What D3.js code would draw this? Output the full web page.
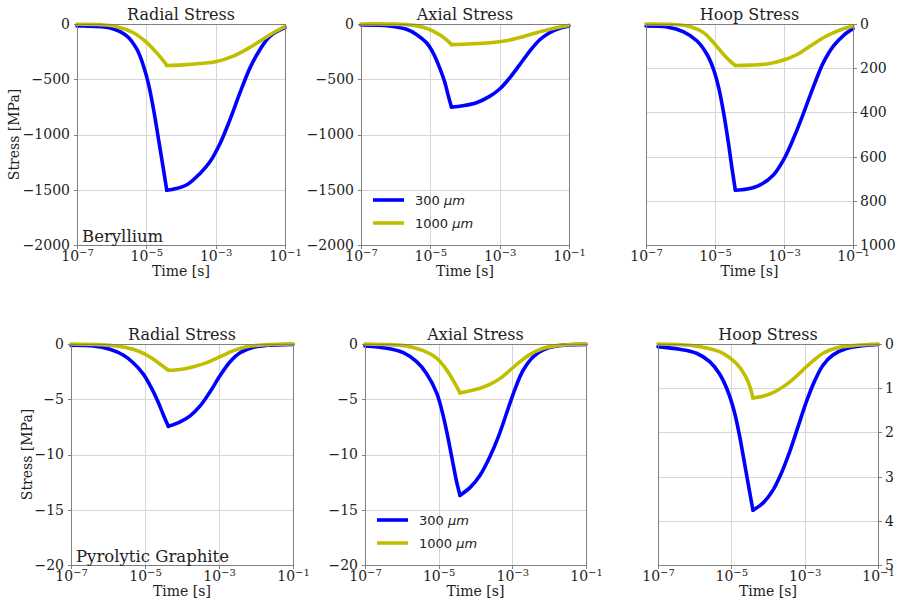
<!doctype HTML>
<html lang="en">
<head>
<meta charset="utf-8">
<title>Stress vs time, Beryllium and Pyrolytic Graphite</title>
<script src="https://d3js.org/d3.v7.min.js"></script>
<style type="text/css">
  body { margin: 0; background: white; }
  .axis path, .axis line { fill: none; stroke: #7f7f7f; shape-rendering: crispEdges; }
  .axis text { font-family: "DejaVu Serif", serif; font-size: 14px; fill: #222; }
  .grid line { stroke: #d6d6d6; stroke-width: 1; shape-rendering: crispEdges; }
  .label { font-family: "DejaVu Serif", serif; fill: #222; }
  .legend { font-family: "DejaVu Sans", sans-serif; font-size: 13px; fill: #222; }
</style>
</head>
<body>
<script type="text/javascript">

// each point is [log10 of time in s, stress in MPa]
// Beryllium
var beRadial300  = [[-7,-18],[-6.81,-18],[-6.04,-36],[-5.56,-109],[-5.27,-230],[-5.08,-382],[-4.94,-540],[-4.79,-776],
                    [-4.65,-1040],[-4.52,-1290],[-4.41,-1505],
                    [-4.22,-1495],[-3.83,-1455],[-3.45,-1352],[-3.16,-1245],[-2.87,-1079],[-2.59,-867],[-2.3,-624],
                    [-2.01,-397],[-1.72,-230],[-1.43,-109],[-1,-33]];
var beRadial1000 = [[-7,-2],[-6.33,-6],[-5.85,-24],[-5.37,-79],[-4.98,-170],[-4.7,-261],[-4.5,-336],[-4.41,-375],
                    [-3.93,-370],[-3.45,-358],[-2.97,-339],[-2.49,-291],[-2.11,-230],[-1.72,-155],[-1.34,-79],[-1,-24]];
var beAxial300   = [[-7,-9],[-6.17,-18],[-5.69,-48],[-5.4,-94],[-5.11,-170],[-4.92,-261],[-4.73,-397],[-4.58,-530],
                    [-4.49,-640],[-4.39,-752],
                    [-4.05,-739],[-3.67,-712],[-3.29,-655],[-3.0,-588],[-2.71,-488],[-2.42,-367],[-2.13,-245],
                    [-1.85,-145],[-1.56,-79],[-1.27,-39],[-1,-18]];
var beAxial1000  = [[-7,0],[-5.69,-6],[-5.21,-30],[-4.92,-64],[-4.68,-109],[-4.49,-155],[-4.39,-187],
                    [-3.77,-179],[-3.29,-170],[-2.81,-152],[-2.33,-115],[-1.94,-79],[-1.56,-48],[-1,-12]];
var beHoop300    = [[-7,9],[-6.39,14],[-5.91,36],[-5.52,77],[-5.23,138],[-5.04,206],[-4.89,290],[-4.75,402],
                    [-4.6,550],[-4.51,650],[-4.41,752],
                    [-4.07,747],[-3.69,728],[-3.3,682],[-3.01,614],[-2.72,516],[-2.43,402],[-2.14,281],
                    [-1.86,175],[-1.57,100],[-1.27,51],[-1,21]];
var beHoop1000   = [[-7,0],[-6.2,2],[-5.71,12],[-5.33,39],[-5.04,85],[-4.75,138],[-4.56,168],[-4.41,188],
                    [-3.98,186],[-3.49,181],[-3.01,163],[-2.62,138],[-2.24,100],[-1.86,62],[-1.46,32],[-1,9]];

// Pyrolytic Graphite
var pgRadial300  = [[-7,-0.12],[-6.4,-0.18],[-5.95,-0.48],[-5.59,-1.0],[-5.32,-1.7],[-5.05,-2.7],[-4.82,-4.02],
                    [-4.64,-5.3],[-4.5,-6.45],[-4.37,-7.45],
                    [-4.05,-7.04],[-3.78,-6.5],[-3.51,-5.6],[-3.24,-4.32],[-2.97,-2.85],[-2.7,-1.6],[-2.43,-0.79],
                    [-2.07,-0.3],[-1.71,-0.12],[-1,-0.03]];
var pgRadial1000 = [[-7,0],[-6.22,-0.06],[-5.77,-0.18],[-5.32,-0.48],[-4.95,-1.0],[-4.68,-1.6],[-4.46,-2.15],[-4.37,-2.38],
                    [-4.05,-2.3],[-3.69,-2.05],[-3.33,-1.69],[-2.97,-1.15],[-2.61,-0.6],[-2.25,-0.24],[-1.71,-0.06],[-1,0]];
var pgAxial300   = [[-7,-0.18],[-6.41,-0.39],[-5.96,-0.79],[-5.6,-1.6],[-5.33,-2.66],[-5.05,-4.47],[-4.87,-6.59],
                    [-4.74,-8.6],[-4.6,-11.0],[-4.51,-12.5],[-4.42,-13.7],
                    [-4.15,-13.0],[-3.88,-11.9],[-3.61,-10.2],[-3.38,-8.4],[-3.15,-6.2],[-2.93,-4.1],[-2.71,-2.4],
                    [-2.43,-1.15],[-2.16,-0.54],[-1.8,-0.18],[-1,-0.03]];
var pgAxial1000  = [[-7,0],[-6.32,-0.06],[-5.87,-0.18],[-5.42,-0.6],[-5.05,-1.3],[-4.78,-2.36],[-4.56,-3.56],[-4.42,-4.42],
                    [-4.15,-4.23],[-3.88,-4.0],[-3.61,-3.66],[-3.33,-3.11],[-3.06,-2.36],[-2.79,-1.6],[-2.52,-0.94],
                    [-2.16,-0.39],[-1.8,-0.15],[-1,0]];
var pgHoop300    = [[-7,0.06],[-6.41,0.12],[-5.95,0.21],[-5.59,0.4],[-5.32,0.68],[-5.09,1.08],[-4.91,1.56],
                    [-4.77,2.1],[-4.64,2.7],[-4.5,3.35],[-4.41,3.76],
                    [-4.14,3.6],[-3.86,3.3],[-3.64,2.93],[-3.41,2.44],[-3.18,1.87],[-2.95,1.3],[-2.73,0.84],
                    [-2.5,0.48],[-2.23,0.25],[-1.86,0.1],[-1,0.01]];
var pgHoop1000   = [[-7,0],[-6.14,0.03],[-5.68,0.09],[-5.23,0.21],[-4.86,0.44],[-4.62,0.72],[-4.5,0.95],[-4.41,1.22],
                    [-4.14,1.18],[-3.86,1.1],[-3.59,0.97],[-3.32,0.8],[-3.05,0.59],[-2.77,0.38],[-2.5,0.21],
                    [-2.14,0.09],[-1.59,0.03],[-1,0]];

var xTicks = [1e-7, 1e-5, 1e-3, 1e-1];
var beRadialTicks = [0, -500, -1000, -1500, -2000];
var beHoopTicks = [0, 200, 400, 600, 800, 1000];
var pgRadialTicks = [0, -5, -10, -15, -20];
var pgHoopTicks = [0, 1, 2, 3, 4, 5];
var seriesNames = ["300 \u03bcm", "1000 \u03bcm"];
var seriesColors = ["#0000ff", "#bfbf00"];

var svg = d3.select("body").append("svg")
	.attr("width", 898)
	.attr("height", 605);

var panels = [
	{box: [77, 285, 24, 245], title: "Radial Stress", yDomain: [-2000, 0], yTicks: beRadialTicks, data: [beRadial300, beRadial1000], ylabelX: 14, note: "Beryllium"},
	{box: [361, 569, 24, 245], title: "Axial Stress", yDomain: [-2000, 0], yTicks: beRadialTicks, data: [beAxial300, beAxial1000], legend: true},
	{box: [646, 853, 24, 245], title: "Hoop Stress", yDomain: [1000, 0], yTicks: beHoopTicks, data: [beHoop300, beHoop1000], right: true},
	{box: [71, 293, 344, 565], title: "Radial Stress", yDomain: [-20, 0], yTicks: pgRadialTicks, data: [pgRadial300, pgRadial1000], ylabelX: 27, note: "Pyrolytic Graphite"},
	{box: [365, 586, 344, 565], title: "Axial Stress", yDomain: [-20, 0], yTicks: pgRadialTicks, data: [pgAxial300, pgAxial1000], legend: true},
	{box: [658, 878, 344, 565], title: "Hoop Stress", yDomain: [5, 0], yTicks: pgHoopTicks, data: [pgHoop300, pgHoop1000], right: true}
];

function drawPanel(p) {
	var x0 = p.box[0], x1 = p.box[1], y0 = p.box[2], y1 = p.box[3];
	var x = d3.scaleLog().domain([1e-7, 1e-1]).range([x0, x1]);
	var y = d3.scaleLinear().domain(p.yDomain).range([y1, y0]);

	var g = svg.append("g");

	// grid lines
	var grid = g.append("g").attr("class", "grid");
	grid.selectAll("line.v").data(xTicks).enter().append("line")
		.attr("x1", function(d) { return Math.round(x(d)) + 0.5; })
		.attr("x2", function(d) { return Math.round(x(d)) + 0.5; })
		.attr("y1", y0).attr("y2", y1);
	grid.selectAll("line.h").data(p.yTicks).enter().append("line")
		.attr("y1", function(d) { return Math.round(y(d)) + 0.5; })
		.attr("y2", function(d) { return Math.round(y(d)) + 0.5; })
		.attr("x1", x0).attr("x2", x1);

	// curves, split at the peak so the corner stays sharp
	var line = d3.line()
		.x(function(d) { return x(Math.pow(10, d[0])); })
		.y(function(d) { return y(d[1]); })
		.curve(d3.curveCatmullRom.alpha(0.5));

	p.data.forEach(function(series, i) {
		var peak = d3.maxIndex(series, function(d) { return Math.abs(d[1]); });
		var parts = [series.slice(0, peak + 1), series.slice(peak)];
		parts.forEach(function(part) {
			g.append("path")
				.datum(part)
				.attr("fill", "none")
				.attr("stroke", seriesColors[i])
				.attr("stroke-width", 3.6)
				.attr("stroke-linejoin", "round")
				.attr("stroke-linecap", "round")
				.attr("d", line);
		});
	});

	// frame
	g.append("rect")
		.attr("x", x0 + 0.5).attr("y", y0 + 0.5)
		.attr("width", x1 - x0).attr("height", y1 - y0)
		.attr("fill", "none").attr("stroke", "#7f7f7f")
		.attr("shape-rendering", "crispEdges");

	// x axis
	var xa = g.append("g")
		.attr("class", "axis")
		.attr("transform", "translate(0," + y1 + ")")
		.call(d3.axisBottom(x).tickValues(xTicks).tickSize(3.5).tickPadding(2.5).tickFormat(""));
	xa.select(".domain").remove();
	xa.selectAll(".tick text").each(function(d) {
		var t = d3.select(this);
		t.attr("dy", "0.71em");
		t.append("tspan").text("10");
		t.append("tspan").attr("dy", "-0.45em").attr("font-size", "10px")
			.text("\u2212" + Math.round(-Math.log10(d)));
	});

	// y axis
	var axisFn = p.right ? d3.axisRight(y) : d3.axisLeft(y);
	var ya = g.append("g")
		.attr("class", "axis")
		.attr("transform", "translate(" + (p.right ? x1 : x0) + ",0)")
		.call(axisFn.tickValues(p.yTicks).tickSize(3.5).tickPadding(3.5)
			.tickFormat(function(d) { return d3.format("d")(d); }));
	ya.select(".domain").remove();

	// title and axis labels
	g.append("text").attr("class", "label")
		.attr("x", (x0 + x1) / 2).attr("y", y0 - 4)
		.attr("text-anchor", "middle").attr("font-size", "16px")
		.text(p.title);

	g.append("text").attr("class", "label")
		.attr("x", (x0 + x1) / 2).attr("y", y1 + 31)
		.attr("text-anchor", "middle").attr("font-size", "14px")
		.text("Time [s]");

	if (p.ylabelX) {
		g.append("text").attr("class", "label")
			.attr("transform", "translate(" + p.ylabelX + "," + ((y0 + y1) / 2) + ") rotate(-90)")
			.attr("text-anchor", "middle").attr("dy", "0.35em").attr("font-size", "14px")
			.text("Stress [MPa]");
	}

	if (p.note) {
		g.append("text").attr("class", "label")
			.attr("x", x0 + 5).attr("y", y1 - 3)
			.attr("font-size", "16.5px")
			.text(p.note);
	}

	if (p.legend) {
		seriesNames.forEach(function(name, i) {
			var ly = y1 - 45 + i * 23;
			g.append("line")
				.attr("x1", x0 + 12).attr("x2", x0 + 43)
				.attr("y1", ly).attr("y2", ly)
				.attr("stroke", seriesColors[i]).attr("stroke-width", 3.6);
			var txt = g.append("text").attr("class", "legend")
				.attr("x", x0 + 54).attr("y", ly + 5);
			txt.append("tspan").text(name.split(" ")[0] + " ");
			txt.append("tspan").attr("font-style", "italic").text(name.split(" ")[1]);
		});
	}
}

panels.forEach(drawPanel);

</script>
</body>
</html>
